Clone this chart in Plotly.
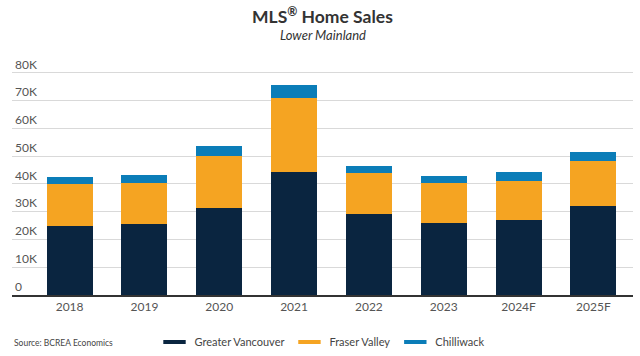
import plotly.graph_objects as go

years = ["2018", "2019", "2020", "2021", "2022", "2023", "2024F", "2025F"]
greater_vancouver = [24900, 25600, 31500, 44400, 29300, 26100, 27000, 32200]
fraser_valley = [14900, 14700, 18700, 26500, 14500, 14200, 14200, 15900]
chilliwack = [2800, 2900, 3600, 4800, 2500, 2600, 3000, 3300]
y_ticks = [0, 10000, 20000, 30000, 40000, 50000, 60000, 70000, 80000]
y_tick_labels = ["0", "10K", "20K", "30K", "40K", "50K", "60K", "70K", "80K"]

series = [
    ("Greater Vancouver", greater_vancouver, "#0a2540"),
    ("Fraser Valley", fraser_valley, "#f5a422"),
    ("Chilliwack", chilliwack, "#0b7db8"),
]

FONT = "Lato"
fig = go.Figure()
for name, vals, color in series:
    fig.add_trace(go.Bar(x=years, y=vals, name=name, marker=dict(color=color, line=dict(width=0)),
                         showlegend=False, hoverinfo="skip"))
for name, vals, color in series:
    fig.add_trace(go.Scatter(x=[None], y=[None], name=name, mode="markers",
                             marker=dict(symbol="line-ew", size=18, color=color,
                                         line=dict(color=color, width=4))))

fig.update_layout(
    width=640, height=356,
    margin=dict(l=12, r=7, t=44.5, b=61, autoexpand=False),
    barmode="stack", bargap=0.385,
    plot_bgcolor="white", paper_bgcolor="white",
    font=dict(family=FONT, size=12, color="#555"),
    xaxis=dict(range=[-0.77, 7.53], showline=True, linecolor="#333", linewidth=2,
               ticks="", tickfont=dict(family=FONT, size=12, color="#555"), showgrid=False),
    yaxis=dict(range=[0, 90000], tickvals=y_ticks, ticktext=y_tick_labels,
               ticklabelposition="inside top", showgrid=True, gridcolor="#d9d9d9",
               gridwidth=1, zeroline=False, tickfont=dict(family=FONT, size=12, color="#555")),
    legend=dict(orientation="h", x=0.5, xanchor="center", y=-0.188, yanchor="middle",
                traceorder="normal", font=dict(family=FONT, size=11, color="#444"), itemwidth=30),
    annotations=[
        dict(text="<b>MLS<sup>®</sup> Home Sales</b>", x=0.5, y=1.118, xref="paper", yref="paper",
             showarrow=False, font=dict(family=FONT, size=17.5, color="#333"), xanchor="center", yanchor="middle"),
        dict(text="<i>Lower Mainland</i>", x=0.5, y=1.038, xref="paper", yref="paper",
             showarrow=False, font=dict(family=FONT, size=13, color="#333"), xanchor="center", yanchor="middle"),
        dict(text="Source: BCREA Economics", x=0, y=-0.19, xref="paper", yref="paper",
             showarrow=False, font=dict(family=FONT, size=8.5, color="#444"), xanchor="left", yanchor="middle"),
    ],
)
fig.write_html("out.html", config={"displayModeBar": False},
               post_script="document.body.style.margin='0';document.body.style.overflow='hidden';")
